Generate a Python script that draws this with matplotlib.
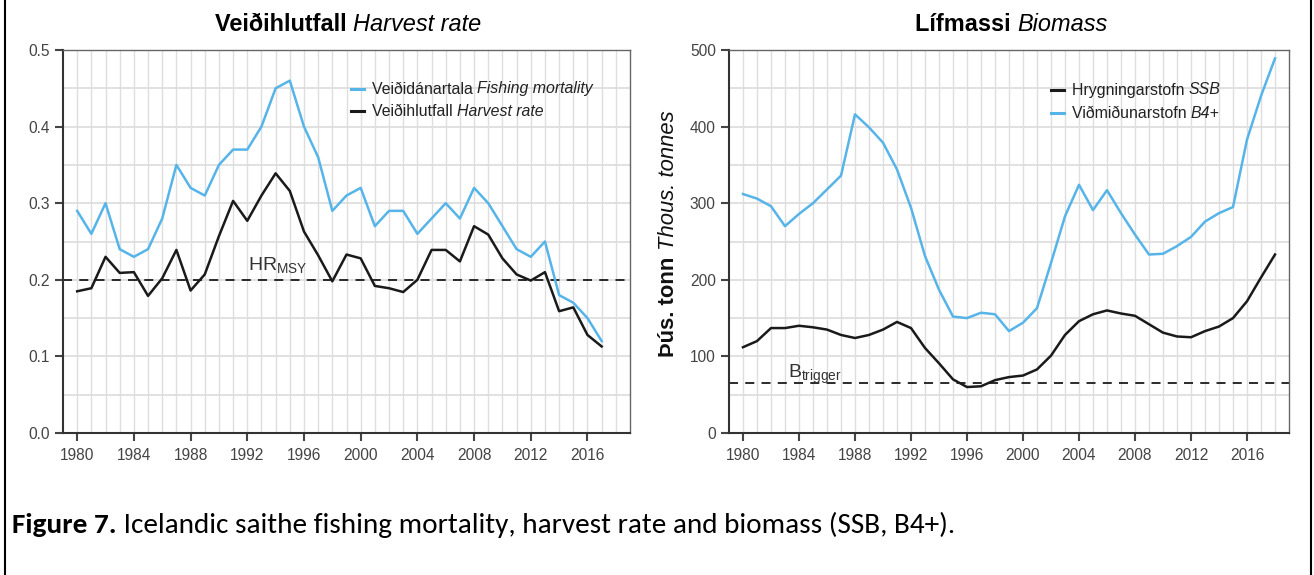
import matplotlib
matplotlib.use("Agg")
import matplotlib.pyplot as plt
import matplotlib.transforms as mtransforms
from matplotlib.lines import Line2D
from matplotlib import font_manager

fonts = font_manager.fontManager.ttflist


def has_styles(name):
    ents = [f for f in fonts if f.name == name]
    bold_ok = any(f.weight in ('bold', 700) or (isinstance(f.weight, int) and f.weight >= 600) for f in ents)
    ital_ok = any(f.style == 'italic' for f in ents)
    return bold_ok and ital_ok


def pick(*names):
    for n in names:
        if has_styles(n):
            return n
    return 'DejaVu Sans'


CHART_FONT = pick('Liberation Sans', 'Arimo', 'DejaVu Sans')
CAPTION_FONT = pick('Carlito', 'Calibri', 'Lato')
plt.rcParams['font.family'] = [CHART_FONT, 'DejaVu Sans']
plt.rcParams['mathtext.fontset'] = 'custom'
plt.rcParams['mathtext.rm'] = CHART_FONT

# Harvest rate panel, 1980-2017
years_hr = list(range(1980, 2018))
fishing_mortality = [0.29, 0.26, 0.30, 0.24, 0.23, 0.24, 0.28, 0.35, 0.32, 0.31,
                     0.35, 0.37, 0.37, 0.40, 0.45, 0.46, 0.40, 0.36, 0.29, 0.31,
                     0.32, 0.27, 0.29, 0.29, 0.26, 0.28, 0.30, 0.28, 0.32, 0.30,
                     0.27, 0.24, 0.23, 0.25, 0.18, 0.17, 0.15, 0.12]
harvest_rate = [0.185, 0.189, 0.230, 0.209, 0.210, 0.179, 0.202, 0.239, 0.186, 0.207,
                0.257, 0.303, 0.277, 0.310, 0.339, 0.316, 0.263, 0.232, 0.198, 0.233,
                0.228, 0.192, 0.189, 0.184, 0.200, 0.239, 0.239, 0.224, 0.270, 0.259,
                0.228, 0.207, 0.199, 0.210, 0.159, 0.164, 0.128, 0.113]
hr_msy = 0.2

# Biomass panel, 1980-2018 (thous. tonnes)
years_b = list(range(1980, 2019))
ssb = [112, 120, 137, 137, 140, 138, 135, 128, 124, 128,
       135, 145, 137, 111, 91, 70, 60, 61, 69, 73,
       75, 83, 101, 128, 146, 155, 160, 156, 153, 142,
       131, 126, 125, 133, 139, 150, 172, 203, 233]
b4plus = [312, 306, 296, 270, 286, 300, 318, 336, 416, 399,
          379, 344, 294, 231, 187, 152, 150, 157, 155, 133,
          144, 163, 222, 283, 324, 291, 317, 287, 259, 233,
          234, 244, 256, 276, 287, 295, 383, 440, 489]
b_trigger = 65

BLUE = '#56B4E9'
BLACK = '#1a1a1a'
TICK = '#444444'

fig = plt.figure(figsize=(13.14, 5.75), dpi=100)
W, H = 1314, 575
ax1 = fig.add_axes([63 / W, 1 - 433 / H, 567 / W, 383 / H])
ax2 = fig.add_axes([729 / W, 1 - 433 / H, 560 / W, 383 / H])
renderer = fig.canvas.get_renderer()


def style_axes(ax, ymax, ystep, minor_step):
    ax.set_xlim(1979.0, 2019.0)
    ax.set_ylim(0, ymax)
    for yr in range(1980, 2019):
        ax.axvline(yr, color='#dedede', lw=1, zorder=0)
    v = minor_step
    while v < ymax:
        ax.axhline(v, color='#dedede', lw=1.3, zorder=0)
        v += minor_step
    ax.set_xticks(range(1980, 2017, 4))
    ax.set_yticks([ystep * i for i in range(int(round(ymax / ystep)) + 1)])
    ax.tick_params(direction='out', length=5.5, width=1.5, color=TICK,
                   labelcolor=TICK, labelsize=11.2)
    ax.tick_params(axis='x', pad=5)
    ax.tick_params(axis='y', pad=4)
    for side in ['left', 'bottom']:
        ax.spines[side].set_color('#333333')
        ax.spines[side].set_linewidth(1.5)
    for side in ['top', 'right']:
        ax.spines[side].set_color('#666666')
        ax.spines[side].set_linewidth(1.0)


def measure(parts, size, **kw):
    total = 0
    for s, st in parts:
        tmp = fig.text(0, 0, s, fontsize=size, **st, **kw)
        total += tmp.get_window_extent(renderer).width
        tmp.remove()
    return total


def fit_size(parts, target, **kw):
    # font size that makes the text run target pixels long
    return 12 * target / measure(parts, 12, **kw)


def rich(x, y, parts, transform, size, rotation=0, **kw):
    # draw consecutive text pieces with different styles
    t = transform
    for s, st in parts:
        txt = fig.text(x, y, s, transform=t, rotation=rotation, fontsize=size,
                       rotation_mode='anchor', ha='left', **st, **kw)
        ex = txt.get_window_extent(renderer)
        if rotation == 90:
            t = mtransforms.offset_copy(t, fig=fig, y=ex.height, units='dots')
        else:
            t = mtransforms.offset_copy(t, fig=fig, x=ex.width, units='dots')


bold = {'fontweight': 'bold'}
ital = {'fontstyle': 'italic'}
reg = {}

# left panel
style_axes(ax1, 0.5, 0.1, 0.05)
ax1.plot(years_hr, fishing_mortality, color=BLUE, lw=1.8, zorder=3)
ax1.plot(years_hr, harvest_rate, color=BLACK, lw=1.8, zorder=3)
ax1.axhline(hr_msy, color=BLACK, lw=1.3, ls=(0, (5, 4)), zorder=2)
ax1.text(1992.05, 0.212, r'HR$_{\mathregular{MSY}}$', fontsize=14, color='#333333')

# right panel
style_axes(ax2, 500, 100, 50)
ax2.plot(years_b, b4plus, color=BLUE, lw=1.8, zorder=3)
ax2.plot(years_b, ssb, color=BLACK, lw=1.8, zorder=3)
ax2.axhline(b_trigger, color=BLACK, lw=1.3, ls=(0, (5, 4)), zorder=2)
ax2.text(1983.2, 72, r'B$_{\mathregular{trigger}}$', fontsize=14, color='#333333')

fig.canvas.draw()

# titles (left edge, width in px measured on the reference)
title1 = [('Veiðihlutfall ', bold), ('Harvest rate', ital)]
title2 = [('Lífmassi ', bold), ('Biomass', ital)]
rich(215 / W, 1 - 31 / H, title1, fig.transFigure, fit_size(title1, 265), va='baseline')
rich(915 / W, 1 - 31 / H, title2, fig.transFigure, fit_size(title2, 191), va='baseline')

# legends drawn by hand (mixed font styles)
leg_size = fit_size([('Veiðidánartala ', reg), ('Fishing mortality', ital)], 221)
legend_items = [
    (351, [(89, BLUE, [('Veiðidánartala ', reg), ('Fishing mortality', ital)]),
           (111, BLACK, [('Veiðihlutfall ', reg), ('Harvest rate', ital)])]),
    (1051, [(90, BLACK, [('Hrygningarstofn ', reg), ('SSB', ital)]),
            (113, BLUE, [('Viðmiðunarstofn ', reg), ('B4+', ital)])]),
]
for lx, rows in legend_items:
    for ry, col, parts in rows:
        fig.add_artist(Line2D([lx / W, (lx + 13) / W], [1 - ry / H, 1 - ry / H],
                              color=col, lw=2.2, transform=fig.transFigure))
        rich((lx + 21) / W, 1 - ry / H, parts, fig.transFigure, leg_size,
             va='center', color='#222222')

# y label of right panel
ylab = [('Þús. tonn ', bold), ('Thous. tonnes', ital)]
rich(668 / W, 1 - 357 / H, ylab, fig.transFigure, fit_size(ylab, 245),
     rotation=90, va='center', color='#111111')

# caption
cap = [('Figure 7.', {'fontweight': 'bold'}),
       (' Icelandic saithe fishing mortality, harvest rate and biomass (SSB, B4+).', {})]
cap_kw = dict(family=[CAPTION_FONT, 'DejaVu Sans'])
rich(12 / W, 1 - 533 / H, cap, fig.transFigure, fit_size(cap, 943, **cap_kw),
     va='baseline', color='black', **cap_kw)

# frame lines at the sides
fig.add_artist(Line2D([5 / W, 5 / W], [0, 1], color='black', lw=1.5, transform=fig.transFigure))
fig.add_artist(Line2D([1311 / W, 1311 / W], [0, 1], color='black', lw=1.5, transform=fig.transFigure))

fig.savefig('out.png', dpi=100)
